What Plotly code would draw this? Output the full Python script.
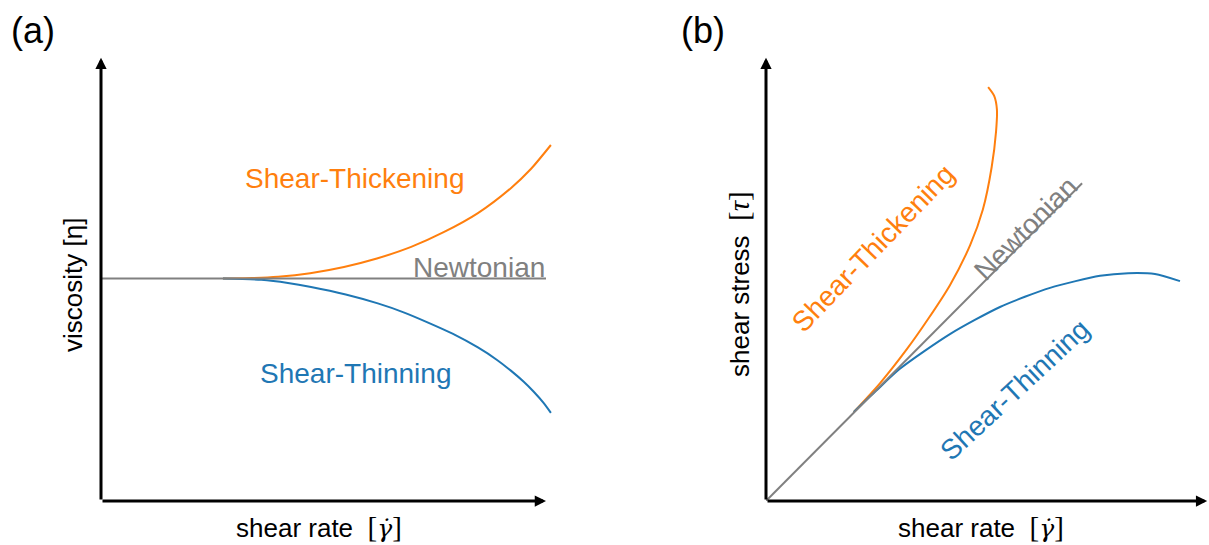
import plotly.graph_objects as go

# ---------------- data (schematic curves) ----------------
# panel (a): viscosity vs shear rate
a_newt_x = [0.0, 10.0]
a_newt_y = [5.0, 5.0]
a_thick_x = [2.74, 3.4, 3.98, 4.7, 5.46, 6.2, 6.97, 7.7, 8.47, 9.21, 9.66, 10.11]
a_thick_y = [5.0, 5.01, 5.04, 5.12, 5.26, 5.45, 5.71, 6.04, 6.47, 7.03, 7.46, 8.0]
a_thin_x = [2.74, 3.6, 4.2, 4.72, 5.5, 6.22, 6.8, 7.35, 7.9, 8.47, 8.9, 9.21, 9.5, 9.73, 9.95, 10.11]
a_thin_y = [5.0, 4.97, 4.9, 4.81, 4.64, 4.44, 4.24, 4.01, 3.76, 3.45, 3.17, 2.93, 2.68, 2.45, 2.2, 1.98]

# panel (b): shear stress vs shear rate
b_newt_x = [0.0, 7.2]
b_newt_y = [0.0, 7.14]
b_thick_x = [2.0, 2.6, 3.2, 3.7, 4.19, 4.65, 4.94, 5.14, 5.24, 5.26, 5.2, 5.06]
b_thick_y = [2.0, 2.65, 3.4, 4.1, 4.85, 5.75, 6.55, 7.5, 8.3, 8.8, 9.1, 9.3]
b_thin_x = [2.0, 2.5, 3.05, 4.19, 5.33, 6.47, 7.61, 8.25, 8.86, 9.43]
b_thin_y = [2.0, 2.47, 2.97, 3.75, 4.36, 4.79, 5.06, 5.12, 5.10, 4.94]

ORANGE = "#ff7f0e"
BLUE = "#1f77b4"
GRAY = "#808080"
FONT = "Liberation Sans, Arial, sans-serif"

fig = go.Figure()

def curve(x, y, color, xa, ya, spline=True):
    fig.add_trace(go.Scatter(x=x, y=y, mode="lines",
                             line=dict(color=color, width=2, shape="spline" if spline else "linear", smoothing=0.7),
                             xaxis=xa, yaxis=ya, hoverinfo="skip"))

curve(a_thick_x, a_thick_y, ORANGE, "x", "y")
curve(a_thin_x, a_thin_y, BLUE, "x", "y")
curve(a_newt_x, a_newt_y, GRAY, "x", "y", spline=False)
curve(b_thick_x, b_thick_y, ORANGE, "x2", "y2")
curve(b_thin_x, b_thin_y, BLUE, "x2", "y2")
curve(b_newt_x, b_newt_y, GRAY, "x2", "y2", spline=False)

W, H = 1209, 545
ax_hidden = dict(showgrid=False, zeroline=False, showticklabels=False, ticks="", showline=False, fixedrange=True)

ya_dom = [1 - 501 / H, 1 - (501 - 10.5 * 44.5) / H]
fig.update_layout(
    width=W, height=H,
    margin=dict(l=0, r=0, t=0, b=0),
    paper_bgcolor="white", plot_bgcolor="white",
    showlegend=False,
    xaxis=dict(domain=[101 / W, (101 + 11.5 * 44.5) / W], range=[0, 11.5], anchor="y", **ax_hidden),
    yaxis=dict(domain=ya_dom, range=[0, 10.5], anchor="x", **ax_hidden),
    xaxis2=dict(domain=[766 / W, (766 + 10.06 * 43.9) / W], range=[0, 10.06], anchor="y2", **ax_hidden),
    yaxis2=dict(domain=ya_dom, range=[0, 10.5], anchor="x2", **ax_hidden),
)

ann = []
# axis arrows
for xr, yr, xt, yt in [("x", "y", 10.0, 9.96), ("x2", "y2", 10.05, 9.96)]:
    ann.append(dict(xref=xr, yref=yr, axref=xr, ayref=yr, x=xt, y=0, ax=0, ay=0, showarrow=True,
                    arrowhead=2, arrowsize=0.75, arrowwidth=3, arrowcolor="black", standoff=0, startstandoff=0, text=""))
    ann.append(dict(xref=xr, yref=yr, axref=xr, ayref=yr, x=0, y=yt, ax=0, ay=0, showarrow=True,
                    arrowhead=2, arrowsize=0.75, arrowwidth=3, arrowcolor="black", standoff=0, startstandoff=0, text=""))

def ptext(txt, px, py, size, color="black", angle=0, xanchor="center"):
    return dict(xref="paper", yref="paper", x=px / W, y=1 - py / H, text=txt, showarrow=False,
                xanchor=xanchor, yanchor="middle", textangle=angle,
                font=dict(family=FONT, size=size, color=color))

NB = "\u00a0"
gam = (NB * 2 + "<span style='font-family:Liberation Serif;font-size:29px'>[</span>"
       + "<span style='font-family:DejaVu Serif;font-size:25px'><i>γ\u0307</i></span>"
       + "<span style='font-family:Liberation Serif;font-size:29px'>]</span>")
tau = NB * 2 + "<span style='font-family:Liberation Serif;font-size:29px'>[<i>τ</i>]</span>"
ann += [
    ptext("(a)", 33, 30, 36),
    ptext("(b)", 703, 30, 36),
    ptext("shear rate" + gam, 234, 527, 26, xanchor="left"),
    ptext("shear rate" + gam, 896, 527, 26, xanchor="left"),
    ptext("viscosity [η]", 73, 285, 26, angle=-90),
    ptext("shear stress" + tau, 739, 284, 26, angle=-90),
    ptext("Shear-Thickening", 354, 178, 28, ORANGE),
    ptext("Shear-Thinning", 355, 373, 28, BLUE),
    ptext("Newtonian", 479, 267, 28, GRAY),
    ptext("Shear-Thickening", 873, 249, 28, ORANGE, -46),
    ptext("Newtonian", 1026, 229, 28, GRAY, -45),
    ptext("Shear-Thinning", 1014, 390, 28, BLUE, -43),
]
fig.update_layout(annotations=ann)

fig.write_html("out.html", config={"displayModeBar": False})
